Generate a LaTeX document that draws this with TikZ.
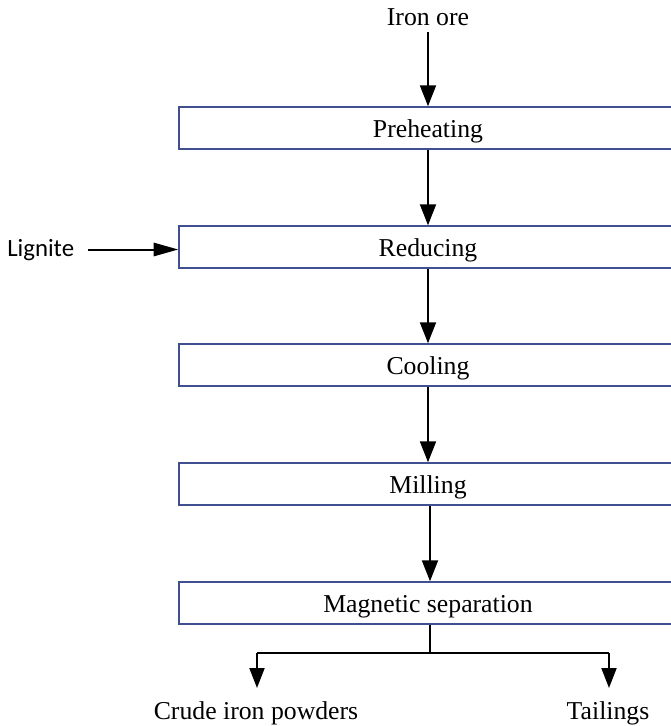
\documentclass[tikz,border=0pt]{standalone}
\usepackage{fontspec}
\setmainfont{Liberation Serif}
\newfontfamily\calib{Carlito}
\usetikzlibrary{arrows.meta}
\definecolor{boxblue}{HTML}{3F4F8F}
\begin{document}
\begin{tikzpicture}[x=0.75pt,y=-0.75pt,
  procbox/.style={draw=boxblue,line width=1.1pt,minimum width=373.5pt,minimum height=31.5pt,inner sep=0pt,text height=15pt,text depth=1.5pt,font=\fontsize{19.3}{22}\selectfont},
  lbl/.style={inner sep=0pt,anchor=base,font=\fontsize{19.3}{22}\selectfont},
  flow/.style={line width=1.5pt,-{Triangle[width=12pt,length=15.75pt]}},
  sideflow/.style={line width=1.5pt,-{Triangle[width=10pt,length=18.5pt]}},
  outflow/.style={line width=1.5pt,-{Triangle[width=11.25pt,length=15pt]}},
  plain/.style={line width=1.5pt}]
\useasboundingbox (0,0) rectangle (671,726);
\node[lbl] (ore) at (428,25) {Iron ore};
\node[procbox] (pre) at (428,128) {Preheating};
\node[procbox] (red) at (428,247) {Reducing};
\node[procbox] (cool) at (428,365) {Cooling};
\node[procbox] (mill) at (428,484) {Milling};
\node[procbox] (mag) at (428,603) {Magnetic separation};
\node[inner sep=0pt,anchor=base west,font=\calib\fontsize{18.6}{22}\selectfont] (lig) at (7,256.5) {Lignite};
\coordinate (ligs) at (88,249.5);
\node[lbl] (crude) at (256,719) {Crude iron powders};
\node[lbl] (tail) at (608,719) {Tailings};
\coordinate (oretop) at (428,32);
\coordinate (j) at (430,653);
\coordinate (jl) at (257,653);
\coordinate (jr) at (609,653);
\coordinate (tl) at (257,688);
\coordinate (tr) at (609,688);
\draw[flow] (oretop) -- (pre.north);
\draw[flow] (pre.south) -- (red.north);
\draw[flow] (red.south) -- (cool.north);
\draw[flow] (cool.south) -- (mill.north);
\draw[flow] (mill.south -| j) -- (mag.north -| j);
\draw[sideflow] (ligs) -- (ligs -| red.west);
\draw[plain] (mag.south -| j) -- (j);
\draw[plain] (jl) -- (jr);
\draw[outflow] (jl) -- (tl);
\draw[outflow] (jr) -- (tr);
\end{tikzpicture}
\end{document}
